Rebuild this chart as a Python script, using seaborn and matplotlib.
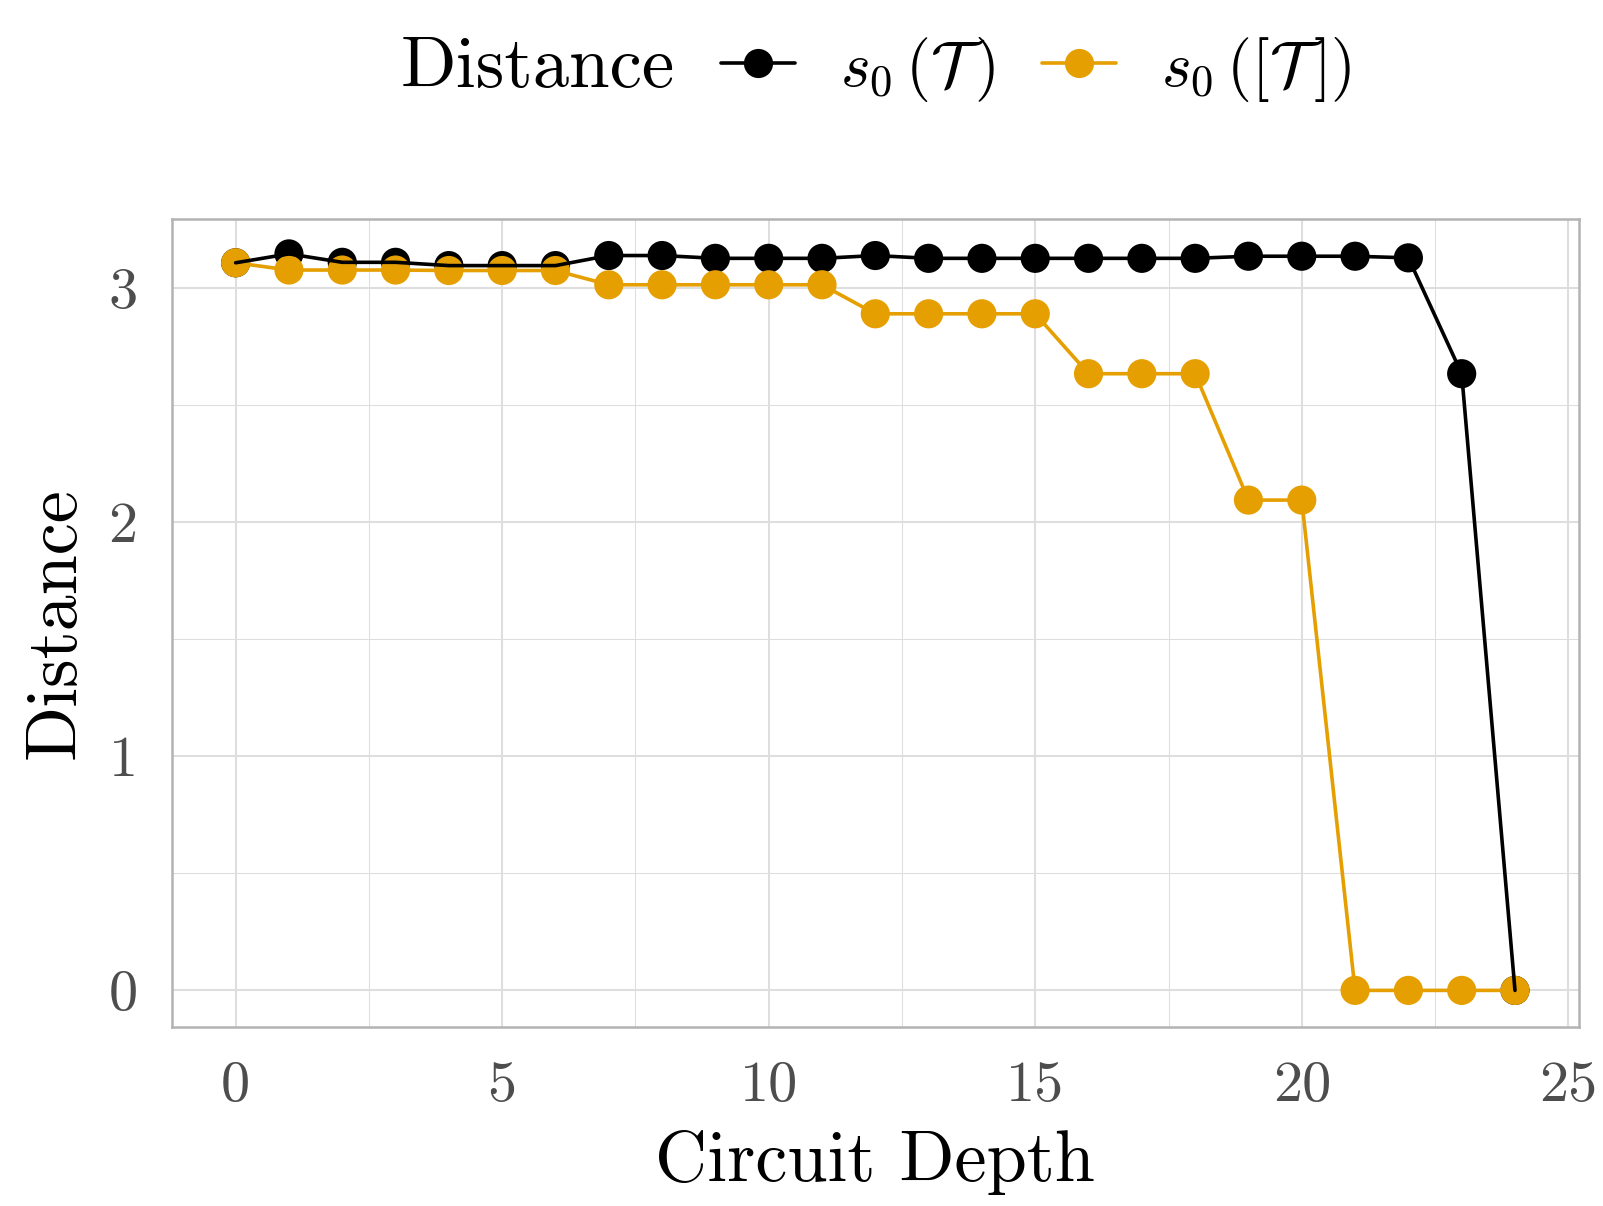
import matplotlib
matplotlib.use("Agg")
import matplotlib.pyplot as plt
from matplotlib.lines import Line2D
import seaborn as sns
import pandas as pd

depth = list(range(25))
s0_T = [3.109, 3.147, 3.111, 3.111, 3.097, 3.097, 3.097, 3.140, 3.140, 3.128,
        3.128, 3.128, 3.140, 3.128, 3.128, 3.128, 3.128, 3.128, 3.128, 3.137,
        3.137, 3.137, 3.130, 2.635, 0.0]
s0_brT = [3.109, 3.078, 3.078, 3.078, 3.076, 3.076, 3.076, 3.015, 3.015, 3.015,
          3.015, 3.015, 2.891, 2.891, 2.891, 2.891, 2.635, 2.635, 2.635, 2.095,
          2.095, 0.0, 0.0, 0.0, 0.0]
label_T = r"$s_0\,(\mathcal{T}\,)$"
label_brT = r"$s_0\,([\mathcal{T}\,])$"
x_ticks = [0, 5, 10, 15, 20, 25]
y_ticks = [0, 1, 2, 3]

df = pd.DataFrame({
    "depth": depth * 2,
    "value": s0_T + s0_brT,
    "series": [label_T] * len(depth) + [label_brT] * len(depth),
})

sns.set_style("white")
plt.rcParams["font.family"] = ["cmr10", "DejaVu Serif"]
plt.rcParams["mathtext.fontset"] = "cm"
plt.rcParams["axes.formatter.use_mathtext"] = True
plt.rcParams["text.color"] = "black"
plt.rcParams["axes.labelcolor"] = "black"

BLACK = "#000000"
ORANGE = "#E69F00"
GRID = "#DEDEDE"
BORDER = "#B3B3B3"
TICKTXT = "#4D4D4D"

fig = plt.figure(figsize=(16.03, 12.06), dpi=100)
ax = fig.add_axes([0.1071, 0.1487, 0.8779, 0.6695])

dT = df[df.series == label_T]
dB = df[df.series == label_brT]
ms = 21
lw = 2.6
sns.scatterplot(data=dT, x="depth", y="value", color=BLACK, s=ms**2,
                edgecolor="none", linewidth=0, ax=ax, zorder=2, legend=False)
sns.lineplot(data=dB, x="depth", y="value", color=ORANGE, linewidth=lw,
             ax=ax, zorder=3, legend=False)
sns.scatterplot(data=dB, x="depth", y="value", color=ORANGE, s=ms**2,
                edgecolor="none", linewidth=0, ax=ax, zorder=4, legend=False)
sns.lineplot(data=dT, x="depth", y="value", color=BLACK, linewidth=lw,
             ax=ax, zorder=5, legend=False)

ax.set_xlim(-1.2, 25.2)
ax.set_ylim(-0.155, 3.295)
ax.set_xticks(x_ticks)
ax.set_xticklabels([str(t) for t in x_ticks])
ax.set_yticks(y_ticks)
ax.set_yticklabels([str(t) for t in y_ticks])
ax.set_xticks([2.5, 7.5, 12.5, 17.5, 22.5], minor=True)
ax.set_yticks([0.5, 1.5, 2.5], minor=True)
ax.grid(which="major", color=GRID, linewidth=1.45, zorder=0)
ax.grid(which="minor", color=GRID, linewidth=0.75, zorder=0)
ax.set_axisbelow(True)
ax.tick_params(which="major", length=13.5, width=1.8, color=BORDER,
               labelsize=42, labelcolor=TICKTXT, pad=11)
ax.tick_params(which="minor", length=0)
for sp in ax.spines.values():
    sp.set_color(BORDER)
    sp.set_linewidth(1.8)
    sp.set_visible(True)

ax.set_xlabel("Circuit Depth", fontsize=52, color="black", labelpad=13)
ax.set_ylabel("Distance", fontsize=52, color="black", labelpad=14)

# legend on top
ly = 1 - 69 / 1206
fig.text(401 / 1603, ly, "Distance", fontsize=52.5, color="black",
         ha="left", va="center")
handles = [
    Line2D([], [], color=BLACK, linewidth=lw, marker="o", markersize=ms,
           markeredgewidth=0),
    Line2D([], [], color=ORANGE, linewidth=lw, marker="o", markersize=ms,
           markeredgewidth=0),
]
leg = fig.legend(handles, [label_T, label_brT], ncol=2, frameon=False,
                 loc="center left", bbox_to_anchor=(721 / 1603, ly),
                 borderpad=0, borderaxespad=0, fontsize=46, handlelength=1.16,
                 handletextpad=0.71, columnspacing=0.72)
for t in leg.get_texts():
    t.set_color("black")

fig.savefig("out.png", dpi=100)
